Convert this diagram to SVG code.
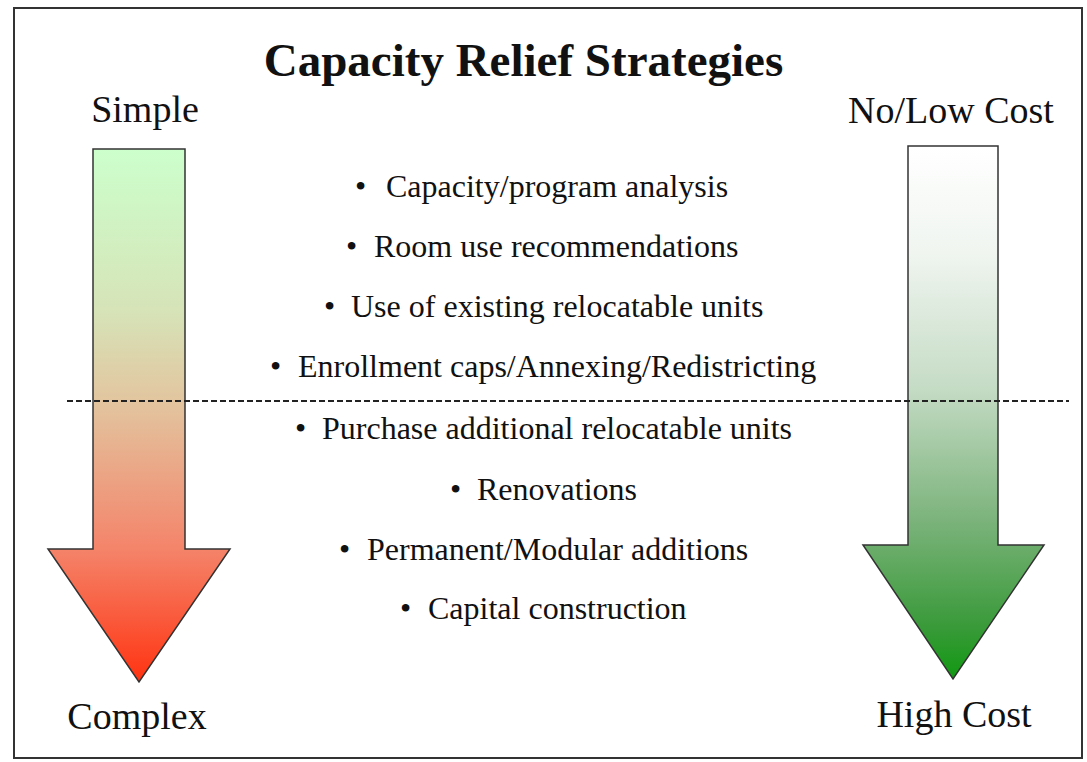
<svg xmlns="http://www.w3.org/2000/svg" width="1087" height="762" viewBox="0 0 1087 762">
<defs>
<linearGradient id="gLeft" x1="0" y1="0" x2="0" y2="1">
<stop offset="0" stop-color="#ccffcc"/>
<stop offset="0.3" stop-color="#d6e4b8"/>
<stop offset="0.47" stop-color="#e2c6a0"/>
<stop offset="0.75" stop-color="#f4846a"/>
<stop offset="1" stop-color="#ff3311"/>
</linearGradient>
<linearGradient id="gRight" x1="0" y1="0" x2="0" y2="1">
<stop offset="0" stop-color="#ffffff"/>
<stop offset="0.2" stop-color="#f0f5f0"/>
<stop offset="0.45" stop-color="#c6dcc6"/>
<stop offset="0.7" stop-color="#7cb37c"/>
<stop offset="0.9" stop-color="#3a9a3a"/>
<stop offset="1" stop-color="#119911"/>
</linearGradient>
<style>
.t{font-family:"Liberation Serif","Times New Roman",serif;fill:#111}
.title{font-size:47px;font-weight:bold}
.lbl{font-size:38px}
.item{font-size:32px}
.arrow{stroke:#333;stroke-width:1.5;stroke-linejoin:miter}
</style>
</defs>
<rect x="0" y="0" width="1087" height="762" fill="#fff"/>
<rect x="14" y="8" width="1068" height="750" fill="none" stroke="#333" stroke-width="2"/>
<g id="title"><text class="t title" x="523.5" y="76" text-anchor="middle">Capacity Relief Strategies</text></g>
<g id="left-arrow">
<polygon class="arrow" fill="url(#gLeft)" points="93,149 185,149 185,549 230,549 139,682 48,549 93,549"/>
<text class="t lbl" x="145" y="122" text-anchor="middle">Simple</text>
<text class="t lbl" x="137" y="729" text-anchor="middle">Complex</text>
</g>
<g id="right-arrow">
<polygon class="arrow" fill="url(#gRight)" points="908,146 998,146 998,545 1044,545 953,679 863,545 908,545"/>
<text class="t lbl" x="951" y="123" text-anchor="middle">No/Low Cost</text>
<text class="t lbl" x="954" y="727" text-anchor="middle">High Cost</text>
</g>
<g id="items">
<text class="t item" y="197"><tspan x="355">•</tspan><tspan x="386">Capacity/program analysis</tspan></text>
<text class="t item" y="257"><tspan x="346">•</tspan><tspan x="374">Room use recommendations</tspan></text>
<text class="t item" y="317"><tspan x="324">•</tspan><tspan x="351">Use of existing relocatable units</tspan></text>
<text class="t item" y="377"><tspan x="270">•</tspan><tspan x="298">Enrollment caps/Annexing/Redistricting</tspan></text>
<text class="t item" y="439"><tspan x="295">•</tspan><tspan x="322">Purchase additional relocatable units</tspan></text>
<text class="t item" y="500"><tspan x="450">•</tspan><tspan x="477">Renovations</tspan></text>
<text class="t item" y="560"><tspan x="339">•</tspan><tspan x="367">Permanent/Modular additions</tspan></text>
<text class="t item" y="619"><tspan x="400">•</tspan><tspan x="428">Capital construction</tspan></text>
</g>
<g id="connectors">
<line x1="67" y1="401" x2="1069" y2="401" stroke="#222" stroke-width="2" stroke-dasharray="6,3"/>
</g>
</svg>
